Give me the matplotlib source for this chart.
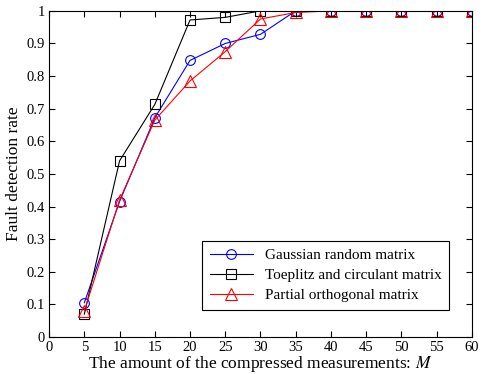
import numpy as np
import matplotlib
matplotlib.use("Agg")
import matplotlib.pyplot as plt

# data
M = [5, 10, 15, 20, 25, 30, 35, 40, 45, 50, 55, 60]
gaussian = [0.105, 0.415, 0.672, 0.848, 0.900, 0.928, 1, 1, 1, 1, 1, 1]
toeplitz = [0.070, 0.540, 0.713, 0.972, 0.980, 1, 1, 1, 1, 1, 1, 1]
partial = [0.080, 0.420, 0.665, 0.785, 0.875, 0.975, 0.995, 1, 1, 1, 1, 1]

plt.rcParams['font.family'] = ['Liberation Serif', 'DejaVu Serif']
plt.rcParams['mathtext.fontset'] = 'stix'

fig = plt.figure(figsize=(4.86, 3.74), dpi=100)
ax = fig.add_axes([0.101, 0.099, 0.870, 0.872])

ax.plot(M, gaussian, color='blue', marker='o', mfc='none', ms=7, lw=0.8, mew=0.8,
        label='Gaussian random matrix')
ax.plot(M, toeplitz, color='black', marker='s', mfc='none', ms=7, lw=0.8, mew=0.8,
        label='Toeplitz and circulant matrix')
ax.plot(M, partial, color='red', marker='^', mfc='none', ms=8, lw=0.8, mew=0.8,
        label='Partial orthogonal matrix')

ax.set_xlim(0, 60)
ax.set_ylim(0, 1)
ax.set_xticks(np.arange(0, 61, 5))
ax.set_yticks(np.arange(0, 1.01, 0.1))
ax.set_yticklabels(['0', '0.1', '0.2', '0.3', '0.4', '0.5', '0.6', '0.7', '0.8', '0.9', '1'])
ax.tick_params(direction='in', top=True, right=True, labelsize=10.5, length=4, width=0.8, pad=3)
for s in ax.spines.values():
    s.set_linewidth(0.8)

ax.set_xlabel('The amount of the compressed measurements: $M$', fontsize=12.5, labelpad=0)
ax.set_ylabel('Fault detection rate', fontsize=12.5, labelpad=3)

leg = ax.legend(loc='lower right', bbox_to_anchor=(0.965, 0.059), fontsize=11,
                fancybox=False, edgecolor='black', framealpha=1, borderpad=0.5,
                labelspacing=0.42, handlelength=2.8)
leg.get_frame().set_linewidth(0.8)

fig.savefig('out.png', dpi=100)
